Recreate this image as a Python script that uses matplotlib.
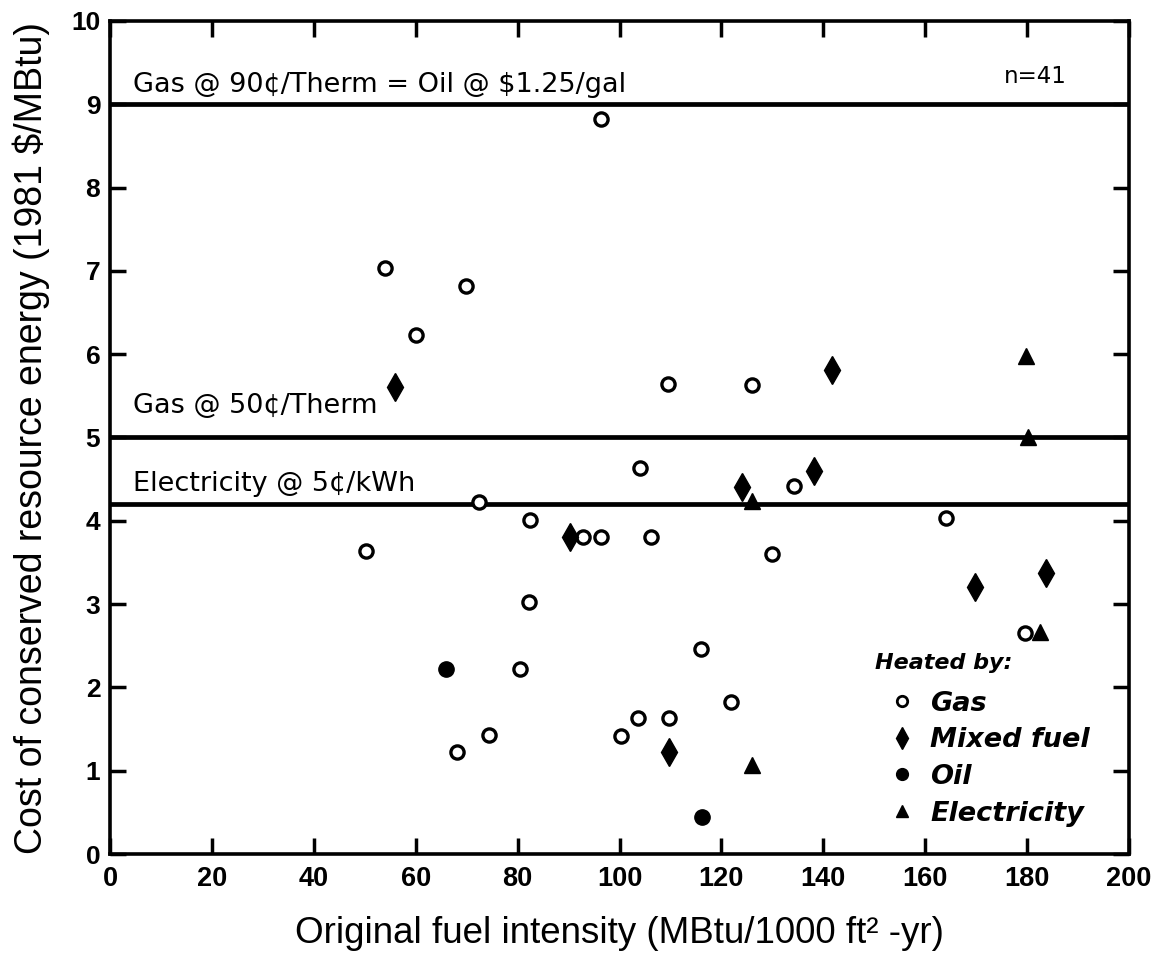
import matplotlib
matplotlib.use("Agg")
import matplotlib.pyplot as plt
from matplotlib.lines import Line2D

# ---------------- data ----------------
gas_x = [50.2, 72.5, 82.5, 92.8, 96.4, 106.2, 104.0, 82.3, 80.4, 68.1, 74.4, 100.2, 103.7,
         109.8, 134.2, 164.0, 130.0, 179.6, 116.0, 121.8, 96.3, 54.0, 69.8, 60.1, 109.5, 126.0]
gas_y = [3.64, 4.22, 4.01, 3.81, 3.81, 3.80, 4.63, 3.02, 2.22, 1.23, 1.43, 1.42, 1.63,
         1.63, 4.42, 4.03, 3.60, 2.65, 2.46, 1.83, 8.82, 7.04, 6.82, 6.23, 5.64, 5.63]
mixed_x = [90.3, 124.1, 138.2, 169.8, 183.8, 109.8, 56.0, 141.8]
mixed_y = [3.81, 4.41, 4.60, 3.20, 3.37, 1.22, 5.61, 5.81]
oil_x = [66.0, 116.2]
oil_y = [2.22, 0.44]
elec_x = [126.0, 180.1, 182.5, 126.0, 179.8]
elec_y = [4.24, 5.00, 2.67, 1.07, 5.98]

ref_levels = [9.0, 5.0, 4.2]
ref_labels = ["Gas @ 90¢/Therm = Oil @ $1.25/gal", "Gas @ 50¢/Therm", "Electricity @ 5¢/kWh"]
ref_label_y = [9.15, 5.30, 4.36]

x_ticks = [0, 20, 40, 60, 80, 100, 120, 140, 160, 180, 200]
y_ticks = [0, 1, 2, 3, 4, 5, 6, 7, 8, 9, 10]
legend_labels = ["Gas", "Mixed fuel", "Oil", "Electricity"]

# ---------------- figure ----------------
plt.rcParams['font.family'] = ['Liberation Sans', 'DejaVu Sans']
dejavu = ['DejaVu Sans']

fig = plt.figure(figsize=(11.53, 9.56), dpi=100)
ax = fig.add_axes([110 / 1153, 1 - 854 / 956, 1019 / 1153, 833 / 956])

ax.set_xlim(0, 200)
ax.set_ylim(0, 10)

for lvl, lab, ly in zip(ref_levels, ref_labels, ref_label_y):
    ax.axhline(lvl, color='black', lw=3.4, zorder=2)
    ax.text(4.6, ly, lab, fontsize=19.5, va='baseline', ha='left', color='black',
            family=dejavu)

ax.text(187.8, 9.25, "n=41", fontsize=16.5, va='baseline', ha='right', family=dejavu)

ax.plot(gas_x, gas_y, 'o', ms=9.5, mfc='white', mec='black', mew=2.4, ls='none', zorder=4)
ax.plot(mixed_x, mixed_y, 'd', ms=14, mfc='black', mec='black', ls='none', zorder=4)
ax.plot(oil_x, oil_y, 'o', ms=11, mfc='black', mec='black', ls='none', zorder=4)
ax.plot(elec_x, elec_y, '^', ms=12, mfc='black', mec='black', ls='none', zorder=4)

ax.set_xticks(x_ticks)
ax.set_yticks(y_ticks)
ax.set_xticklabels([str(t) for t in x_ticks], fontsize=19.5, fontweight='bold')
ax.set_yticklabels([str(t) for t in y_ticks], fontsize=19, fontweight='bold')
ax.tick_params(direction='in', length=11.5, width=2.5, top=True, right=True,
               labeltop=False, labelright=False)
ax.tick_params(axis='x', pad=9)
ax.tick_params(axis='y', pad=7)
for sp in ax.spines.values():
    sp.set_linewidth(2.6)

ax.set_xlabel("Original fuel intensity (MBtu/1000 ft² -yr)", fontsize=26.5, labelpad=17)
ax.set_ylabel("Cost of conserved resource energy (1981 $/MBtu)", fontsize=27, labelpad=15)

handles = [
    Line2D([], [], marker='o', ls='none', ms=7.5, mfc='white', mec='black', mew=2),
    Line2D([], [], marker='d', ls='none', ms=11, mfc='black', mec='black'),
    Line2D([], [], marker='o', ls='none', ms=8.5, mfc='black', mec='black'),
    Line2D([], [], marker='^', ls='none', ms=9, mfc='black', mec='black'),
]
leg = ax.legend(handles, legend_labels, loc='upper left', bbox_to_anchor=(0.7507, 0.241),
                frameon=False, title="Heated by:", alignment='left', borderpad=0,
                borderaxespad=0, handlelength=2.0, handletextpad=0.05, labelspacing=0.39,
                prop={'family': 'DejaVu Sans', 'size': 19.5, 'style': 'italic',
                      'weight': 'bold'},
                title_fontproperties={'family': 'DejaVu Sans', 'size': 16,
                                      'style': 'italic', 'weight': 'bold'})
# wider gap between the legend title and its entries
leg._legend_box.sep = 0.65 * 19.5

fig.savefig("out.png", dpi=100)
